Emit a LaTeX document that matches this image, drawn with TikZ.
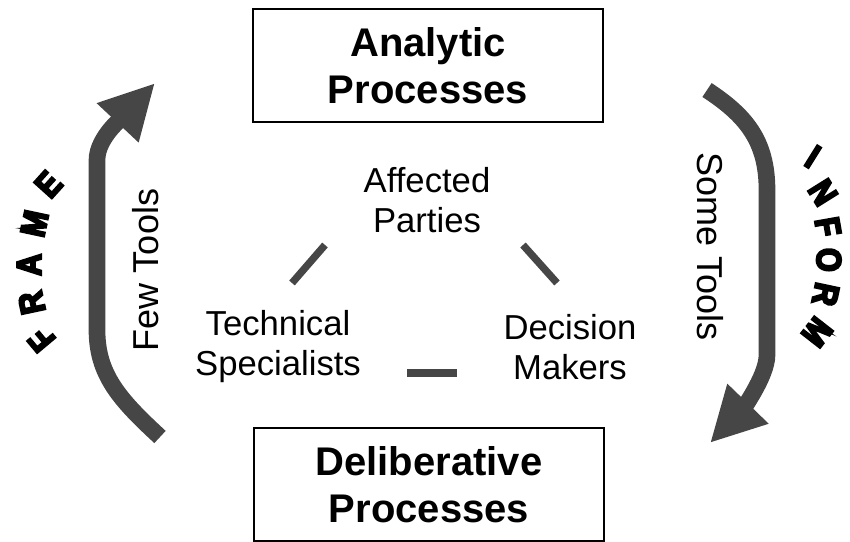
\documentclass[tikz,border=0pt]{standalone}
\usepackage{fontspec}
\setmainfont{Liberation Sans}
\newfontfamily\wordartfont[FakeBold=6, FakeStretch=0.88]{Liberation Sans Bold}
\usetikzlibrary{arrows.meta}
\definecolor{arrowgray}{RGB}{70,70,70}
\tikzset{
  process/.style={draw, line width=2.2pt, minimum width=262.5pt, minimum height=84.75pt,
    align=center, font=\bfseries\fontsize{30}{35}\selectfont},
  party/.style={align=center, font=\fontsize{26}{30}\selectfont},
  tools/.style={font=\fontsize{27}{32}\selectfont},
  link/.style={arrowgray, line width=5.5pt},
  flow/.style={arrowgray, line width=12.5pt, -{Triangle[length=41pt, width=40pt]}},
  wordart/.style={font=\wordartfont\fontsize{26}{26}\selectfont, inner sep=0pt},
}

\begin{document}
\begin{tikzpicture}[x=0.75pt, y=0.75pt]
  \useasboundingbox (0,0) rectangle (850,542);

  % the two kinds of process
  \node[process] (analytic) at (428,476.5) {Analytic\\Processes};
  \node[process] (deliberative) at (429,57.5) {Deliberative\\Processes};

  % the three parties
  \node[party] (affected) at (427,342) {Affected\\Parties};
  \node[party] (technical) at (278,195) {Technical\\Specialists};
  \node[party] (decision) at (570,195) {Decision\\Makers};

  \coordinate (tecaff1) at (292,259);
  \coordinate (tecaff2) at (325,297);
  \coordinate (affdec1) at (523,297);
  \coordinate (affdec2) at (557,259);
  \coordinate (tecdec1) at (407,169);
  \coordinate (tecdec2) at (457,169);
  \draw[link] (tecaff1) -- (tecaff2);
  \draw[link] (affdec1) -- (affdec2);
  \draw[link, line width=6.5pt] (tecdec1) -- (tecdec2);

  % big arrows
  \coordinate (frametail) at (160,105);
  \coordinate (frametip) at (155,459);
  \draw[flow] (frametail) .. controls (120,142) and (97,167) .. (97,212)
    -- (97,382) .. controls (97,405) and (125,427) .. (frametip);
  \coordinate (informtail) at (707,452);
  \coordinate (informtip) at (710,99);
  \draw[flow] (informtail) .. controls (745,427) and (767,402) .. (767,352)
    -- (767,187) .. controls (767,165) and (740,130) .. (informtip);

  \node[tools, rotate=90] (few) at (146,272) {Few Tools};
  \node[tools, rotate=-90] (some) at (710,295.5) {Some Tools};

  % arched words
  \coordinate (framecenter) at (228,272);
  \foreach \ch/\ang/\rot [count=\i] in {F/200.5/130, R/189.5/102, A/178.5/90, M/166.5/78, E/154.5/48}
    \node[wordart, rotate=\rot] (frame\i) at ([shift={(\ang:199)}]framecenter) {\ch};
  \coordinate (informcenter) at (545,291);
  \foreach \ch/\ang/\rot [count=\i] in {I/19.4/-32, N/11.9/-58, F/4.9/-80, O/-1.8/-90, R/-8.8/-102, M/-16.6/-128}
    \node[wordart, rotate=\rot] (inform\i) at ([shift={(\ang:284)}]informcenter) {\ch};
\end{tikzpicture}
\end{document}
